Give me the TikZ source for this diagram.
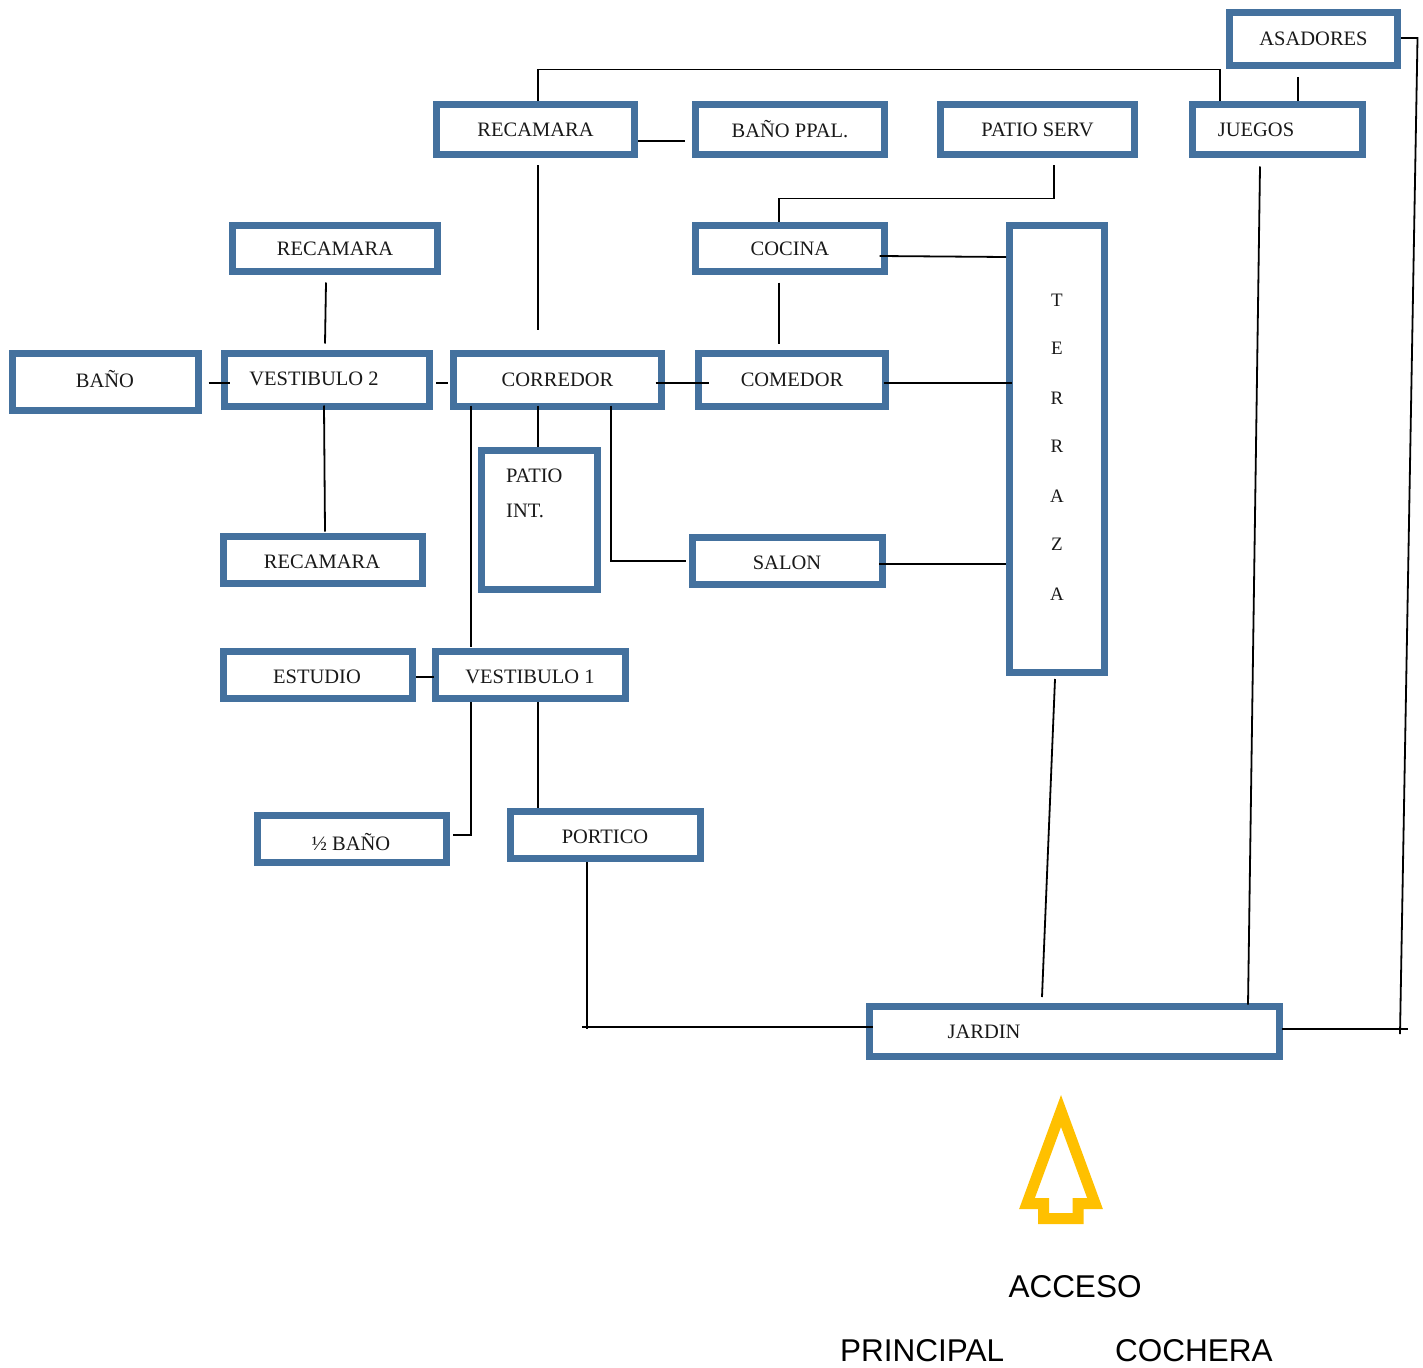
\documentclass[tikz,border=0pt]{standalone}
\usepackage{fontspec}
\setmainfont{Liberation Serif}
\newfontfamily\arialf{Liberation Sans}
\usetikzlibrary{calc}
\definecolor{boxblue}{RGB}{68,113,158}
\definecolor{accyellow}{RGB}{255,192,0}
\tikzset{
  room/.style={draw=boxblue, line width=7pt, fill=white, inner sep=0pt,
    font=\fontsize{20.5}{24}\selectfont, text=black!90},
  lbl/.style={inner sep=0pt, font=\fontsize{20.5}{24}\selectfont, text=black!90},
  link/.style={draw=black, line width=1.8pt},
  big/.style={inner sep=0pt, font=\arialf\fontsize{31.5}{36}\selectfont}
}
\begin{document}
\begin{tikzpicture}[x=1pt,y=-1pt]
\useasboundingbox (0,0) rectangle (1423,1367);
% rooms
\node[room, minimum width=168pt, minimum height=53pt] (asad) at (1313.5,39) {ASADORES};
\node[room, minimum width=198pt, minimum height=50pt] (rec1) at (535.5,129.5) {RECAMARA};
\node[room, minimum width=189pt, minimum height=50pt] (banop) at (790,129.5) {BAÑO PPAL.};
\node[room, minimum width=194pt, minimum height=50pt] (patios) at (1037.5,129.5) {PATIO SERV};
\node[room, minimum width=170pt, minimum height=50pt] (juegos) at (1277.5,129.5) {};
\node[lbl] (juegost) at (1256,130) {JUEGOS};
\node[room, minimum width=205pt, minimum height=46pt] (rec2) at (335,248.5) {RECAMARA};
\node[room, minimum width=189pt, minimum height=46pt] (cocina) at (790,248.5) {COCINA};
\node[room, minimum width=95pt, minimum height=447pt] (terraza) at (1057,449) {};
\foreach \l/\yy [count=\i] in {T/300,E/348,R/398,R/446,A/496,Z/544,A/594}
  \node[lbl, font=\fontsize{19}{22}\selectfont] (ter\i) at (1057,\yy) {\l};
\node[room, minimum width=186pt, minimum height=57pt] (bano) at (105.5,382) {};
\node[lbl] (banot) at (105,379) {BAÑO};
\node[room, minimum width=205pt, minimum height=53pt] (vest2) at (327,380) {};
\node[lbl] (vest2t) at (314,379) {VESTIBULO 2};
\node[room, minimum width=208pt, minimum height=53pt] (corr) at (557.5,380) {CORREDOR};
\node[room, minimum width=187pt, minimum height=53pt] (comedor) at (792,380) {COMEDOR};
\node[room, minimum width=116pt, minimum height=139pt] (patioint) at (539.5,520) {};
\node[lbl, anchor=west] (pit1) at (506,476) {PATIO};
\node[lbl, anchor=west] (pit2) at (506,511) {INT.};
\node[room, minimum width=199pt, minimum height=47pt] (rec3) at (323,560) {};
\node[lbl] (rec3t) at (322,562) {RECAMARA};
\node[room, minimum width=190pt, minimum height=47pt] (salon) at (787.5,561) {};
\node[lbl] (salont) at (787,563) {SALON};
\node[room, minimum width=189pt, minimum height=47pt] (estudio) at (318,675) {};
\node[lbl] (estudiot) at (317,677) {ESTUDIO};
\node[room, minimum width=190pt, minimum height=47pt] (vest1) at (530.5,675) {};
\node[lbl] (vest1t) at (530,677) {VESTIBULO 1};
\node[room, minimum width=189pt, minimum height=47pt] (medio) at (352,839) {};
\node[lbl] (mediot) at (351,842) {½ BAÑO};
\node[room, minimum width=190pt, minimum height=47pt] (portico) at (605.5,835) {};
\node[lbl] (porticot) at (605,837) {PORTICO};
\node[room, minimum width=410pt, minimum height=50pt] (jardin) at (1074.5,1031.5) {};
\node[lbl] (jardint) at (984,1032) {JARDIN};
\coordinate (aend) at (1400,1034);
% connectors
\draw[link] ([xshift=2.5pt]rec1.north) -- ++(0,-31.5) -| ([xshift=-57.5pt]juegos.north);
\draw[link] ([xshift=-15.5pt,yshift=-8pt]asad.south) -- ([xshift=-15.5pt]asad.south |- juegos.north);
\draw[link] ([yshift=1pt]asad.east) -- ++(16.5,0) -- (aend);
\draw[link] ([xshift=-1.5pt,yshift=2.5pt]jardin.east) -- ++(126,0);
\draw[link] ([yshift=-11.5pt]rec1.east) -- ([xshift=-7pt,yshift=-11.5pt]rec1.east -| banop.west);
\draw[link] ([xshift=2.5pt,yshift=-7.5pt]rec1.south) -- ([xshift=2.5pt,yshift=20pt]rec1.south |- corr.north);
\draw[link] ([xshift=16.5pt,yshift=-7.5pt]patios.south) -- ++(0,33) -| ([xshift=-11pt]cocina.north);
\draw[link] ([xshift=-8.5pt,yshift=-7.5pt]cocina.east) -- ([yshift=-8.5pt]cocina.east -| terraza.west);
\draw[link] ([xshift=-11pt,yshift=-7.5pt]cocina.south) -- ([xshift=-11pt,yshift=6.5pt]cocina.south |- comedor.north);
\draw[link] ([xshift=-9pt,yshift=-7.5pt]rec2.south) -- ([xshift=-2pt,yshift=6.5pt]vest2.north);
\draw[link] ([xshift=6.5pt,yshift=-1pt]bano.east) -- ([xshift=8.5pt,yshift=-3pt]vest2.west);
\draw[link] ([xshift=3pt,yshift=-3pt]vest2.east) -- ([xshift=-2pt,yshift=-3pt]corr.west);
\draw[link] ([xshift=-9.5pt,yshift=-3pt]corr.east) -- ([xshift=13.5pt,yshift=-3pt]comedor.west);
\draw[link] ([xshift=-5.5pt,yshift=-3pt]comedor.east) -- ([xshift=5.5pt,yshift=-3pt]comedor.east -| terraza.west);
\draw[link] ([xshift=-3pt,yshift=4.5pt]vest2.south) -- ([xshift=2pt,yshift=1.5pt]rec3.north);
\draw[link] ([xshift=-86.5pt,yshift=4.5pt]corr.south) -- ([xshift=-86.5pt,yshift=1.5pt]corr.south |- vest1.north);
\draw[link] ([xshift=-19.5pt,yshift=4.5pt]corr.south) -- ([xshift=-1.5pt]patioint.north);
\draw[link] ([xshift=53.5pt,yshift=4.5pt]corr.south) -- ([xshift=53.5pt]corr.south |- salon.west) -- ([xshift=-3pt]salon.west);
\draw[link] ([xshift=-7pt,yshift=-3pt]salon.east) -- ([yshift=-3pt]salon.east -| terraza.west);
\draw[link] ([yshift=-2pt]estudio.east) -- ([xshift=1.5pt,yshift=-2pt]vest1.west);
\draw[link] ([xshift=-59.5pt]vest1.south) |- ([xshift=2.5pt,yshift=4pt]medio.east);
\draw[link] ([xshift=7.5pt]vest1.south) -- ([xshift=7.5pt]vest1.south |- portico.north);
\draw[link] ([xshift=-18.5pt]portico.south) -- ++(0,167);
\draw[link] ([xshift=6.5pt,yshift=4.5pt]jardin.west) -- ([xshift=-24pt,yshift=4.5pt]jardin.west -| portico.south);
\draw[link] ([xshift=-2pt,yshift=-3pt]terraza.south) -- ([xshift=-32.5pt,yshift=6pt]jardin.north);
\draw[link] ([xshift=-17.5pt,yshift=-8.5pt]juegos.south) -- ([xshift=173.5pt,yshift=-1.5pt]jardin.north);
% access arrow
\draw[accyellow, line width=11pt, line join=miter]
  (1061,1111) -- (1095,1203.5) -- (1078,1203.5) -- (1078,1218.5) -- (1043.5,1218.5)
  -- (1043.5,1203.5) -- (1027,1203.5) -- cycle;
\node[big] (acceso) at (1075,1287) {ACCESO};
\node[big, anchor=west] (principal) at (840,1351) {PRINCIPAL};
\node[big, anchor=west] (cochera) at (1115,1351) {COCHERA};
\end{tikzpicture}
\end{document}
